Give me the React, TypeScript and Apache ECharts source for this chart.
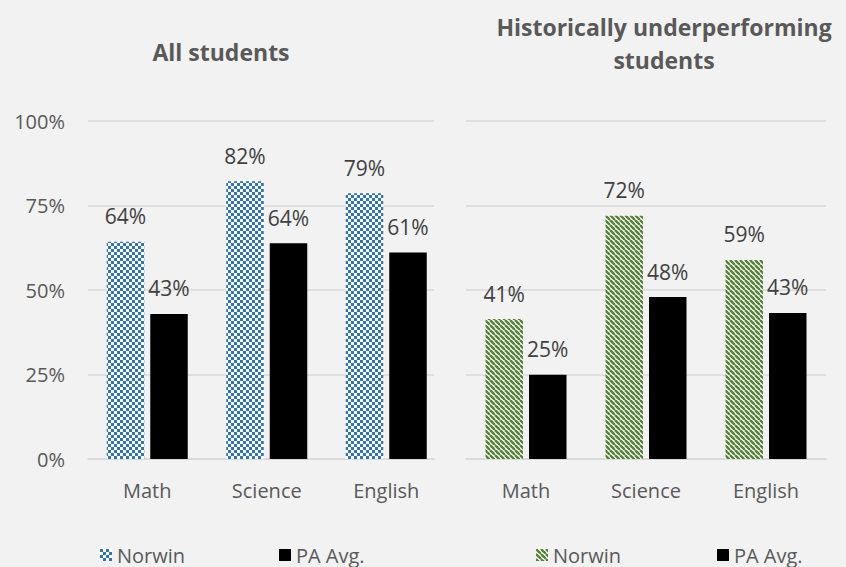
import React, { useEffect, useRef } from "react";
import * as echarts from "echarts";

const categories = ["Math", "Science", "English"];
const yTicks = [0, 0.25, 0.5, 0.75, 1];
const allNorwin = [0.643, 0.822, 0.786];
const allPA = [0.429, 0.638, 0.611];
const hupNorwin = [0.414, 0.72, 0.589];
const hupPA = [0.249, 0.479, 0.432];
const titles = ["All students", "Historically underperforming\nstudents"];
const seriesNames = ["Norwin", "PA Avg."];

const TEXT = "#595959";
const LABEL = "#404040";
const GRID = "#d9d9d9";
const FONT = "'Open Sans', 'Noto Sans', sans-serif";

function makeChecker(): HTMLCanvasElement {
  const c = document.createElement("canvas");
  c.width = 6;
  c.height = 6;
  const g = c.getContext("2d")!;
  g.fillStyle = "#ffffff";
  g.fillRect(0, 0, 6, 6);
  g.fillStyle = "#2e75b6";
  g.fillRect(0, 0, 3, 3);
  g.fillRect(3, 3, 3, 3);
  return c;
}

function makeStripes(): HTMLCanvasElement {
  const s = 5;
  const c = document.createElement("canvas");
  c.width = s;
  c.height = s;
  const g = c.getContext("2d")!;
  g.fillStyle = "#ffffff";
  g.fillRect(0, 0, s, s);
  g.strokeStyle = "#548235";
  g.lineWidth = 2.4;
  for (let k = -2; k <= 2; k++) {
    g.beginPath();
    g.moveTo(k * s, 0);
    g.lineTo(k * s + s, s);
    g.stroke();
  }
  return c;
}

export default function App() {
  const ref = useRef<HTMLDivElement>(null);
  useEffect(() => {
    if (!ref.current) return;
    const chart = echarts.init(ref.current, null, { renderer: "svg" });
    const checker = makeChecker();
    const stripes = makeStripes();
    const bluePattern: any = { image: checker, repeat: "repeat", imageWidth: 6, imageHeight: 6 };
    const greenPattern: any = { image: stripes, repeat: "repeat", imageWidth: 5, imageHeight: 5 };

    const labelCfg = {
      show: true,
      position: "top",
      distance: 15,
      color: LABEL,
      fontSize: 21,
      fontFamily: FONT,
      formatter: (p: any) => Math.round(p.value * 100) + "%",
    };

    const barBase = { type: "bar", barWidth: 37.5, barGap: "16%", label: labelCfg };

    const legendBase = {
      orient: "horizontal",
      top: 545,
      padding: 0,
      itemWidth: 12,
      itemHeight: 12,
      itemGap: 6,
      icon: "rect",
      textStyle: { color: TEXT, fontSize: 20, fontFamily: FONT, padding: [0, 0, 0, 0] },
      selectedMode: false,
    };

    chart.setOption({
      animation: false,
      backgroundColor: "#f2f2f2",
      grid: [
        { left: 88, top: 121, width: 346, height: 338 },
        { left: 87.5, top: 121, width: 358.5, height: 338 },
        { left: 466, top: 121, width: 360, height: 338 },
      ],
      xAxis: [
        {
          type: "category",
          gridIndex: 0,
          data: categories,
          axisLine: { show: true, lineStyle: { color: GRID, width: 1.5 } },
          axisTick: { show: false },
          axisLabel: { show: false },
        },
        {
          type: "category",
          gridIndex: 1,
          data: categories,
          axisLine: { show: false },
          axisTick: { show: false },
          axisLabel: { color: TEXT, fontSize: 20, fontFamily: FONT, margin: 21 },
        },
        {
          type: "category",
          gridIndex: 2,
          data: categories,
          axisLine: { show: true, lineStyle: { color: GRID, width: 1.5 } },
          axisTick: { show: false },
          axisLabel: { color: TEXT, fontSize: 20, fontFamily: FONT, margin: 21 },
        },
      ],
      yAxis: [
        {
          type: "value",
          gridIndex: 0,
          min: yTicks[0],
          max: yTicks[yTicks.length - 1],
          interval: 0.25,
          axisLine: { show: false },
          axisTick: { show: false },
          splitLine: { show: true, lineStyle: { color: GRID, width: 1.5 } },
          axisLabel: {
            color: TEXT,
            fontSize: 20,
            fontFamily: FONT,
            margin: 23,
            formatter: (v: number) => Math.round(v * 100) + "%",
          },
        },
        {
          type: "value",
          gridIndex: 1,
          min: 0,
          max: 1,
          interval: 0.25,
          axisLine: { show: false },
          axisTick: { show: false },
          splitLine: { show: false },
          axisLabel: { show: false },
        },
        {
          type: "value",
          gridIndex: 2,
          min: 0,
          max: 1,
          interval: 0.25,
          axisLine: { show: false },
          axisTick: { show: false },
          splitLine: { show: true, lineStyle: { color: GRID, width: 1.5 } },
          axisLabel: { show: false },
        },
      ],
      legend: [
        { ...legendBase, left: 100, data: [{ name: seriesNames[0], itemStyle: { color: bluePattern } }] },
        { ...legendBase, left: 279, data: [{ name: seriesNames[1], itemStyle: { color: "#000000" } }] },
        { ...legendBase, left: 536, data: [{ name: seriesNames[0], itemStyle: { color: greenPattern } }] },
        { ...legendBase, left: 717, data: [{ name: seriesNames[1], itemStyle: { color: "#000000" } }] },
      ],
      graphic: [
        {
          type: "text",
          x: 221,
          y: 52,
          style: {
            text: titles[0],
            align: "center",
            verticalAlign: "middle",
            fill: TEXT,
            font: `bold 23px ${FONT}`,
          },
        },
        {
          type: "text",
          x: 664,
          y: 43,
          style: {
            text: titles[1],
            align: "center",
            verticalAlign: "middle",
            lineHeight: 33,
            fill: TEXT,
            font: `bold 23px ${FONT}`,
          },
        },
      ],
      series: [
        { ...barBase, name: seriesNames[0], xAxisIndex: 1, yAxisIndex: 1, data: allNorwin, itemStyle: { color: bluePattern } },
        { ...barBase, name: seriesNames[1], xAxisIndex: 1, yAxisIndex: 1, data: allPA, itemStyle: { color: "#000000" } },
        { ...barBase, name: seriesNames[0], xAxisIndex: 2, yAxisIndex: 2, data: hupNorwin, itemStyle: { color: greenPattern } },
        { ...barBase, name: seriesNames[1], xAxisIndex: 2, yAxisIndex: 2, data: hupPA, itemStyle: { color: "#000000" } },
      ],
    });
    return () => chart.dispose();
  }, []);
  return <div ref={ref} style={{ width: 846, height: 567, position: "absolute", left: 0, top: 0 }} />;
}
